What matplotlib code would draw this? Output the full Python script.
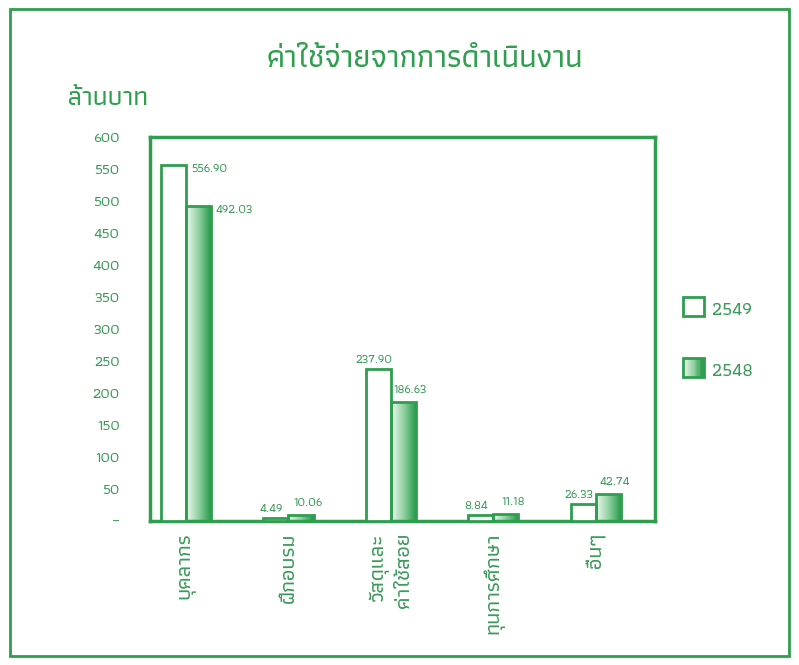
import numpy as np
import matplotlib
matplotlib.use("Agg")
import matplotlib.pyplot as plt
from matplotlib.colors import LinearSegmentedColormap
from matplotlib.patches import Rectangle
from matplotlib.legend_handler import HandlerBase

# data (million baht)
categories = ["บุคลากร", "ฝึกอบรม", "วัสดุและ\nค่าใช้สอย", "ทุนการศึกษา", "อื่นๆ"]
years = ["2549", "2548"]
values_2549 = [556.90, 4.49, 237.90, 8.84, 26.33]
values_2548 = [492.03, 10.06, 186.63, 11.18, 42.74]
yticks = [0, 50, 100, 150, 200, 250, 300, 350, 400, 450, 500, 550, 600]

plt.rcParams['font.family'] = ['Athiti', 'DejaVu Sans']
plt.rcParams['font.weight'] = 'medium'

green = '#2f9e4f'
text_green = '#3b9a5a'
grad_cmap = LinearSegmentedColormap.from_list('g', ['#eef8f0', '#8fd09f', '#1e9646'])


class SquareHandler(HandlerBase):
    # legend square, nudged down so it sits level with the Thai-font label
    def __init__(self, gradient=False):
        super().__init__()
        self.gradient = gradient

    def create_artists(self, legend, orig, xd, yd, w, h, fontsize, trans):
        arts = []
        y0 = yd - 3.5
        if self.gradient:
            n = 16
            for i in range(n):
                arts.append(Rectangle((xd + w * i / n, y0), w / n, h, facecolor=grad_cmap(i / (n - 1)),
                                      edgecolor='none', transform=trans))
            arts.append(Rectangle((xd, y0), w, h, facecolor='none', edgecolor=green, lw=2, transform=trans))
        else:
            arts.append(Rectangle((xd, y0), w, h, facecolor='white', edgecolor=green, lw=2, transform=trans))
        return arts


fig = plt.figure(figsize=(7.99, 6.65), dpi=100)
fig.patches.append(Rectangle((0.012, 0.013), 0.976, 0.974, transform=fig.transFigure,
                             fill=False, edgecolor=green, lw=2))

ax = fig.add_axes([0.188, 0.2165, 0.632, 0.5775])
x = np.arange(len(categories))
w = 0.245

bars1 = ax.bar(x - w / 2, values_2549, w, facecolor='white', edgecolor=green, lw=2, zorder=3)
bars2 = ax.bar(x + w / 2, values_2548, w, facecolor='none', edgecolor=green, lw=2, zorder=3)

grad = np.linspace(0, 1, 64).reshape(1, -1)
for r in bars2:
    im = ax.imshow(grad, extent=[r.get_x(), r.get_x() + r.get_width(), 0, r.get_height()],
                   aspect='auto', cmap=grad_cmap, zorder=2)
    im.set_clip_path(r)

# value labels
lab = dict(textcoords='offset points', fontsize=9, color=text_green)
for i in range(len(categories)):
    b1, b2 = bars1[i], bars2[i]
    if i == 0:
        ax.annotate(f"{values_2549[i]:.2f}", (b1.get_x() + b1.get_width(), b1.get_height()),
                    xytext=(4, -3), ha='left', va='center', **lab)
        ax.annotate(f"{values_2548[i]:.2f}", (b2.get_x() + b2.get_width(), b2.get_height()),
                    xytext=(3, -3), ha='left', va='center', **lab)
    else:
        ax.annotate(f"{values_2549[i]:.2f}", (b1.get_x() + b1.get_width() / 2, b1.get_height()),
                    xytext=(-3, 3), ha='center', va='bottom', **lab)
        ax.annotate(f"{values_2548[i]:.2f}", (b2.get_x() + b2.get_width() / 2, b2.get_height()),
                    xytext=(5, 5), ha='center', va='bottom', **lab)

ax.set_xlim(-0.35, 4.58)
ax.set_ylim(0, 600)
ax.set_yticks(yticks, ['–' if t == 0 else str(t) for t in yticks])
ax.set_xticks(x, categories, rotation=90, va='top', ha='center', multialignment='right',
              linespacing=1.45)
ax.tick_params(axis='y', length=0, pad=22, labelsize=11, labelcolor=text_green)
ax.tick_params(axis='x', length=0, pad=8, labelsize=15.5, labelcolor=text_green)
for s in ax.spines.values():
    s.set_color(green)
    s.set_linewidth(2.5)

fig.text(0.532, 0.91, "ค่าใช้จ่ายจากการดำเนินงาน", ha='center', va='center', fontsize=22.5, color=green)
fig.text(0.085, 0.852, "ล้านบาท", ha='left', va='center', fontsize=19, color=green)

leg = fig.legend([bars1[0], bars2[0]], years,
                 handler_map={bars1[0]: SquareHandler(), bars2[0]: SquareHandler(gradient=True)},
                 loc='center left', bbox_to_anchor=(0.834, 0.49), frameon=False,
                 fontsize=13.5, labelcolor=text_green, handlelength=1.1, handleheight=1.2,
                 labelspacing=2.2, handletextpad=0.45)

fig.savefig("out.png", dpi=100)
